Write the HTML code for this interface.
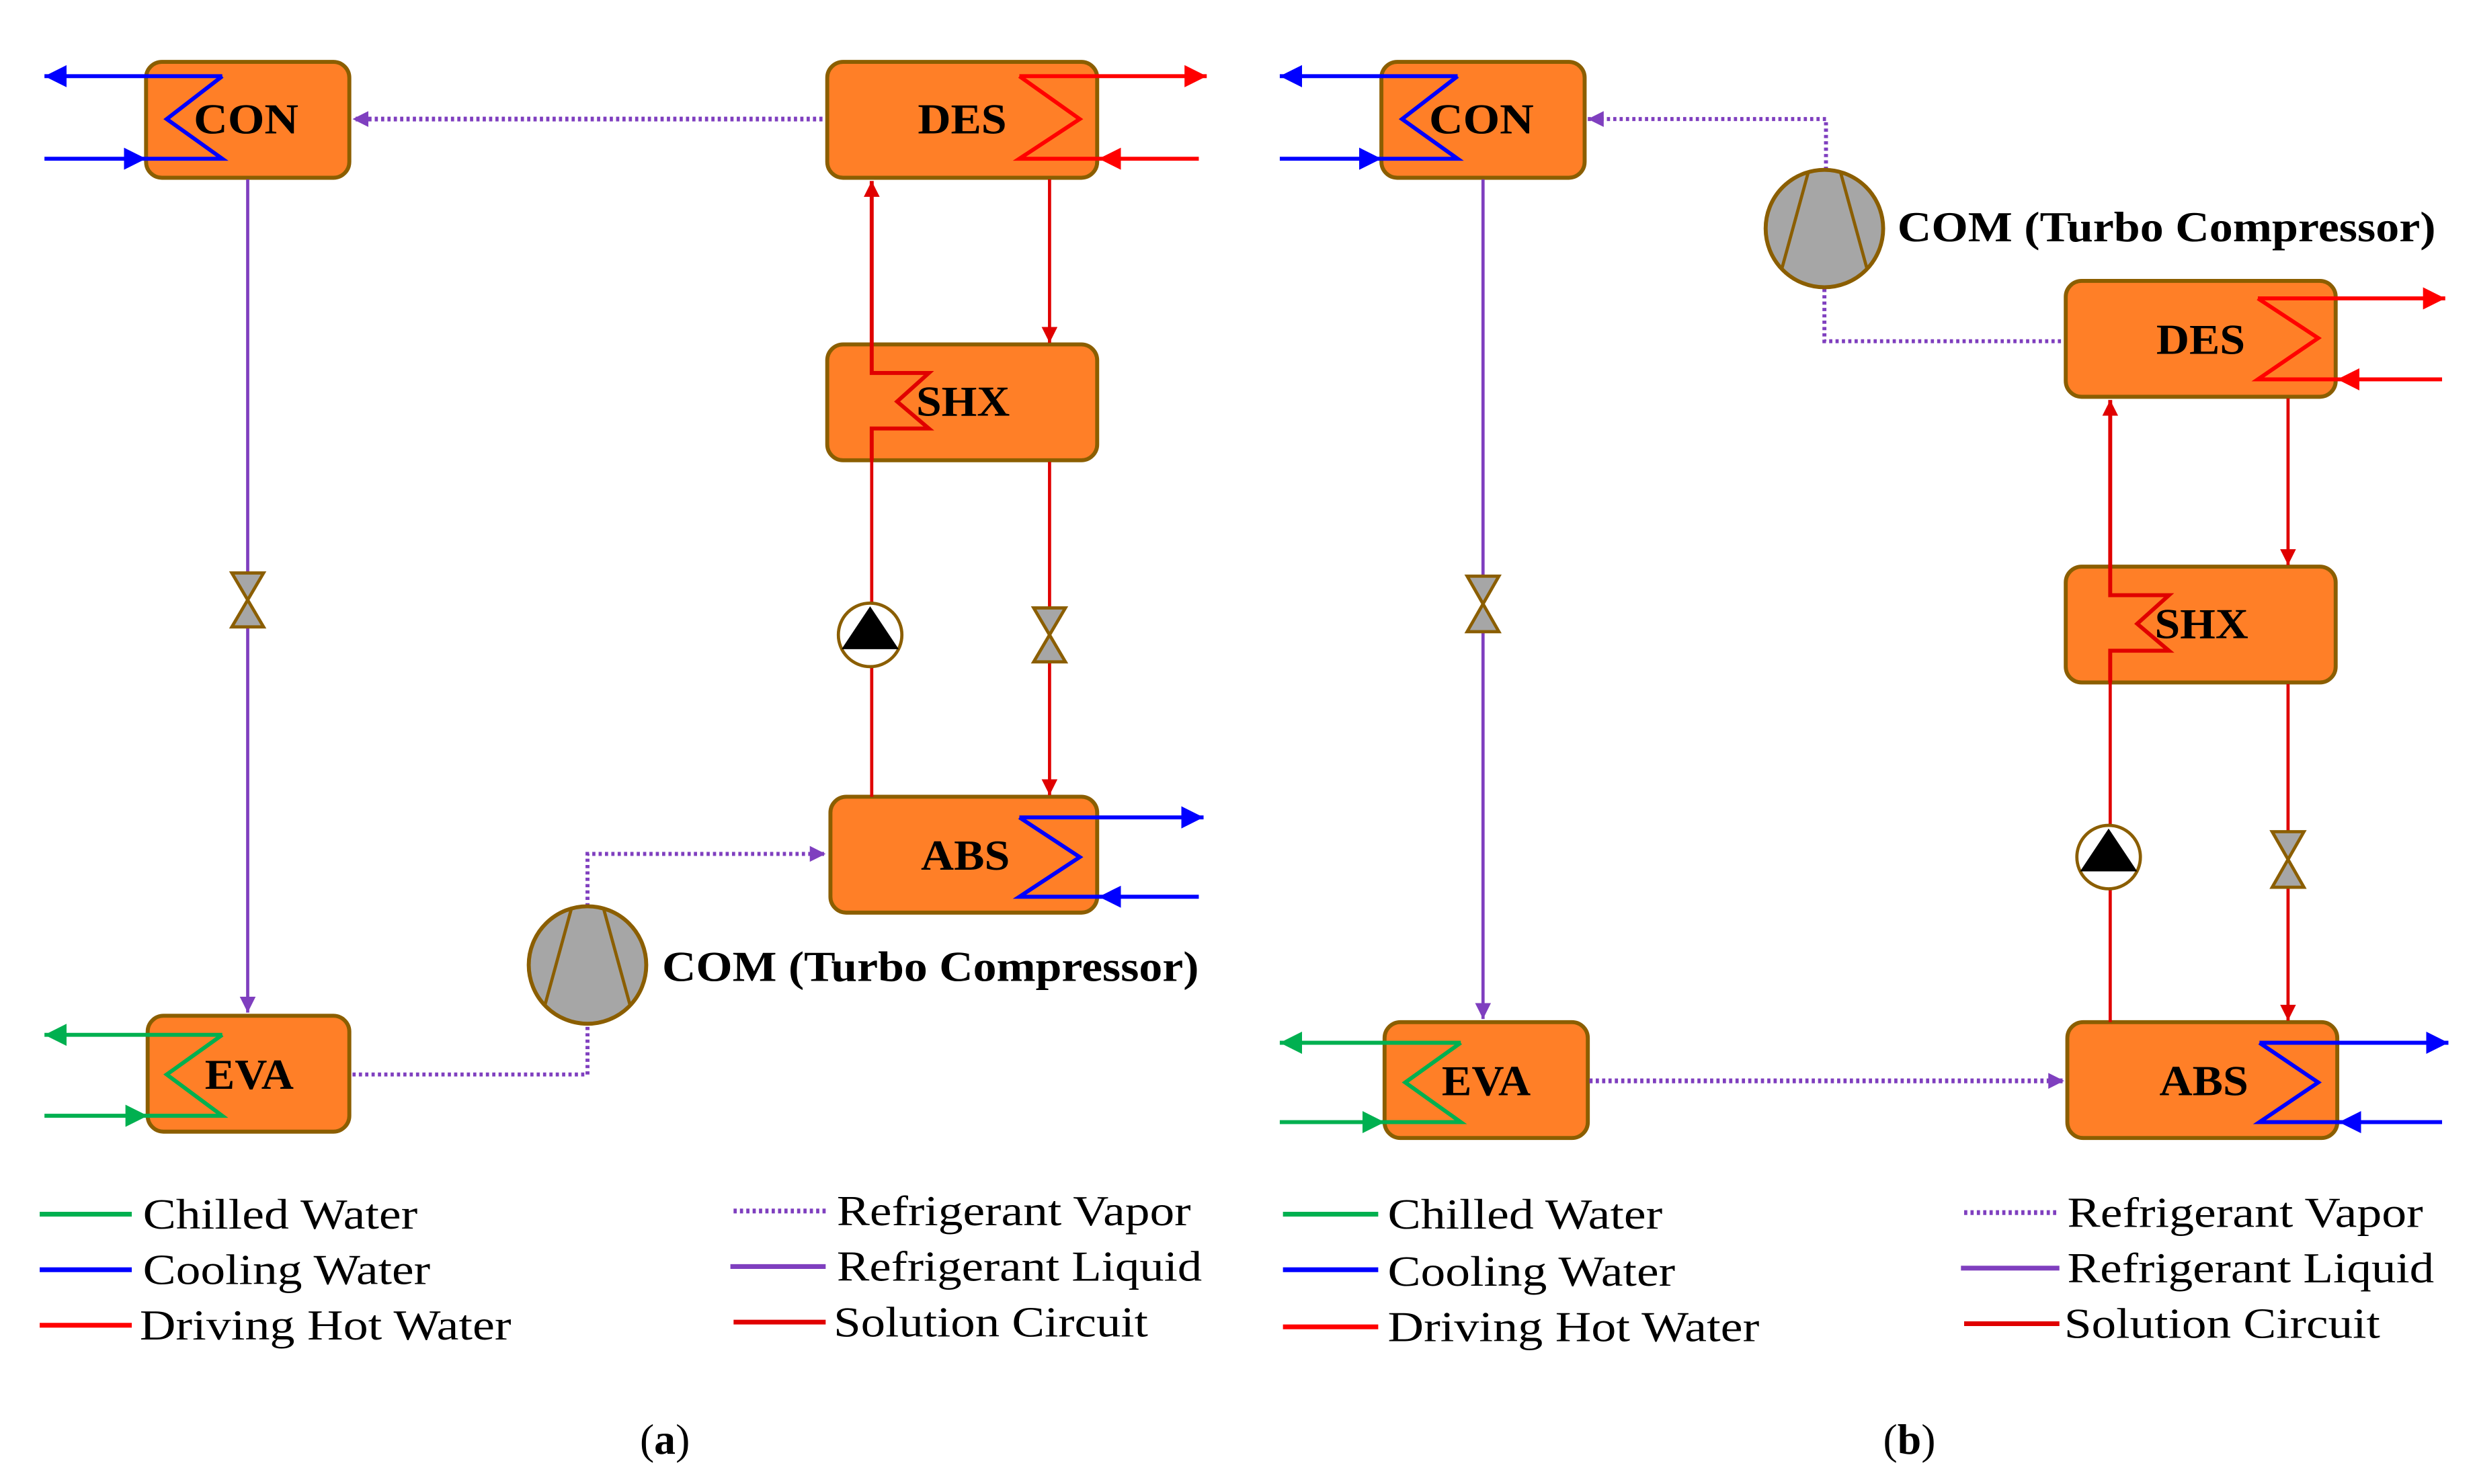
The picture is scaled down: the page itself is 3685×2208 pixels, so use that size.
<!DOCTYPE html>
<html><head><meta charset="utf-8"><style>html,body{margin:0;padding:0;background:#fff}svg{display:block}</style></head><body>
<svg xmlns="http://www.w3.org/2000/svg" width="3685" height="2208" viewBox="0 0 1560 935" preserveAspectRatio="none">
<defs>
<marker id="aB" viewBox="0 0 10 10" refX="10" refY="5" markerWidth="14" markerHeight="14" markerUnits="userSpaceOnUse" orient="auto"><path d="M0,0L10,5L0,10z" fill="#0000ff"/></marker>
<marker id="aG" viewBox="0 0 10 10" refX="10" refY="5" markerWidth="14" markerHeight="14" markerUnits="userSpaceOnUse" orient="auto"><path d="M0,0L10,5L0,10z" fill="#00b050"/></marker>
<marker id="aR" viewBox="0 0 10 10" refX="10" refY="5" markerWidth="14" markerHeight="14" markerUnits="userSpaceOnUse" orient="auto"><path d="M0,0L10,5L0,10z" fill="#ff0000"/></marker>
<marker id="ar" viewBox="0 0 10 10" refX="10" refY="5" markerWidth="10" markerHeight="10" markerUnits="userSpaceOnUse" orient="auto"><path d="M0,0L10,5L0,10z" fill="#e00000"/></marker>
<marker id="aP" viewBox="0 0 10 10" refX="10" refY="5" markerWidth="10" markerHeight="10" markerUnits="userSpaceOnUse" orient="auto"><path d="M0,0L10,5L0,10z" fill="#7f3fbf"/></marker>
</defs>
<g font-family="Liberation Serif, serif" fill="none">
<!-- ===== Panel a ===== -->
<!-- boxes -->
<g fill="#ff7f27" stroke="#8b5e00" stroke-width="2.5">
<rect x="92" y="39" width="128" height="73" rx="10"/>
<rect x="521" y="39" width="170" height="73" rx="10"/>
<rect x="521" y="217" width="170" height="73" rx="10"/>
<rect x="523" y="502" width="168" height="73" rx="10"/>
<rect x="93" y="640" width="127" height="73" rx="10"/>
</g>
<!-- refrigerant liquid -->
<path d="M156,113 V638" stroke="#7f3fbf" stroke-width="2" marker-end="url(#aP)"/>
<!-- vapor -->
<path d="M518,75 H222" stroke="#7f3fbf" stroke-width="3" stroke-dasharray="2,2" marker-end="url(#aP)"/>
<path d="M222,677 H370 V646" stroke="#7f3fbf" stroke-width="2.5" stroke-dasharray="2,2"/>
<path d="M370,571 V538 H520" stroke="#7f3fbf" stroke-width="2.5" stroke-dasharray="2,2" marker-end="url(#aP)"/>
<!-- solution -->
<path d="M549,502 V290" stroke="#e00000" stroke-width="2"/>
<path d="M549,290 V270 H585 L565,253 L585,235 H549 V114" stroke="#e00000" stroke-width="2.5" marker-end="url(#ar)"/>
<path d="M661,113 V216" stroke="#e00000" stroke-width="2" marker-end="url(#ar)"/>
<path d="M661,291 V501" stroke="#e00000" stroke-width="2" marker-end="url(#ar)"/>
<!-- CON blue -->
<path d="M140,48 L105,75 L140,100 H92" stroke="#0000ff" stroke-width="2.5"/>
<path d="M140,48 H28" stroke="#0000ff" stroke-width="2.5" marker-end="url(#aB)"/>
<path d="M28,100 H92" stroke="#0000ff" stroke-width="2.5" marker-end="url(#aB)"/>
<!-- DES red -->
<path d="M642,48 L680,75 L642,100 H692" stroke="#ff0000" stroke-width="2.5"/>
<path d="M642,48 H760" stroke="#ff0000" stroke-width="2.5" marker-end="url(#aR)"/>
<path d="M755,100 H692" stroke="#ff0000" stroke-width="2.5" marker-end="url(#aR)"/>
<!-- ABS blue -->
<path d="M642,515 L680,540 L642,565 H692" stroke="#0000ff" stroke-width="2.5"/>
<path d="M642,515 H758" stroke="#0000ff" stroke-width="2.5" marker-end="url(#aB)"/>
<path d="M755,565 H692" stroke="#0000ff" stroke-width="2.5" marker-end="url(#aB)"/>
<!-- EVA green -->
<path d="M140,652 L105,677 L140,703 H93" stroke="#00b050" stroke-width="2.5"/>
<path d="M140,652 H28" stroke="#00b050" stroke-width="2.5" marker-end="url(#aG)"/>
<path d="M28,703 H93" stroke="#00b050" stroke-width="2.5" marker-end="url(#aG)"/>
<!-- valves -->
<path d="M146,361 H166 L146,395 H166 Z" fill="#a6a6a6" stroke="#8b5e00" stroke-width="2"/>
<path d="M651,383 H671 L651,417 H671 Z" fill="#a6a6a6" stroke="#8b5e00" stroke-width="2"/>
<!-- pump -->
<circle cx="548" cy="400" r="20" fill="#fff" stroke="#8b5e00" stroke-width="2"/>
<path d="M530,409 H566 L548,382 Z" fill="#000"/>
<!-- compressor -->
<circle cx="370" cy="608" r="37" fill="#a6a6a6" stroke="#8b5e00" stroke-width="2.5"/>
<path d="M360,572 L343,634 M380,572 L397,634" stroke="#8b5e00" stroke-width="2"/>
<!-- labels -->
<g fill="#000" font-weight="bold" font-size="27">
<text x="122" y="84" textLength="66" lengthAdjust="spacingAndGlyphs">CON</text>
<text x="578" y="84" textLength="56" lengthAdjust="spacingAndGlyphs">DES</text>
<text x="577" y="262" textLength="59" lengthAdjust="spacingAndGlyphs">SHX</text>
<text x="580" y="548" textLength="56" lengthAdjust="spacingAndGlyphs">ABS</text>
<text x="129" y="686" textLength="56" lengthAdjust="spacingAndGlyphs">EVA</text>
<text x="417" y="618" textLength="338" lengthAdjust="spacingAndGlyphs">COM (Turbo Compressor)</text>
<text x="403" y="916" font-weight="normal">(<tspan font-weight="bold">a</tspan>)</text>
</g>
<!-- legend a -->
<path d="M25,765 H83" stroke="#00b050" stroke-width="3"/>
<path d="M25,800 H83" stroke="#0000ff" stroke-width="3"/>
<path d="M25,835 H83" stroke="#ff0000" stroke-width="3"/>
<path d="M462,763 H520" stroke="#7f3fbf" stroke-width="3" stroke-dasharray="2,2"/>
<path d="M460,798 H520" stroke="#7f3fbf" stroke-width="3"/>
<path d="M462,833 H520" stroke="#e00000" stroke-width="3"/>
<g fill="#000" font-size="27">
<text x="90" y="774" textLength="173" lengthAdjust="spacingAndGlyphs">Chilled Water</text>
<text x="90" y="809" textLength="181" lengthAdjust="spacingAndGlyphs">Cooling Water</text>
<text x="88" y="844" textLength="234" lengthAdjust="spacingAndGlyphs">Driving Hot Water</text>
<text x="527" y="772" textLength="223" lengthAdjust="spacingAndGlyphs">Refrigerant Vapor</text>
<text x="527" y="807" textLength="230" lengthAdjust="spacingAndGlyphs">Refrigerant Liquid</text>
<text x="525" y="842" textLength="198" lengthAdjust="spacingAndGlyphs">Solution Circuit</text>
</g>

<!-- ===== Panel b ===== -->
<g fill="#ff7f27" stroke="#8b5e00" stroke-width="2.5">
<rect x="870" y="39" width="128" height="73" rx="10"/>
<rect x="1301" y="177" width="170" height="73" rx="10"/>
<rect x="1301" y="357" width="170" height="73" rx="10"/>
<rect x="1302" y="644" width="170" height="73" rx="10"/>
<rect x="872" y="644" width="128" height="73" rx="10"/>
</g>
<path d="M934,113 V642" stroke="#7f3fbf" stroke-width="2" marker-end="url(#aP)"/>
<path d="M1150,107 V75 H1000" stroke="#7f3fbf" stroke-width="2.5" stroke-dasharray="2,2" marker-end="url(#aP)"/>
<path d="M1149,182 V215 H1300" stroke="#7f3fbf" stroke-width="2.5" stroke-dasharray="2,2"/>
<path d="M1001,681 H1300" stroke="#7f3fbf" stroke-width="3" stroke-dasharray="2,2" marker-end="url(#aP)"/>
<path d="M1329,644 V430" stroke="#e00000" stroke-width="2"/>
<path d="M1329,430 V410 H1366 L1346,393 L1366,375 H1329 V252" stroke="#e00000" stroke-width="2.5" marker-end="url(#ar)"/>
<path d="M1441,251 V356" stroke="#e00000" stroke-width="2" marker-end="url(#ar)"/>
<path d="M1441,431 V643" stroke="#e00000" stroke-width="2" marker-end="url(#ar)"/>
<!-- CON blue -->
<path d="M918,48 L883,75 L918,100 H870" stroke="#0000ff" stroke-width="2.5"/>
<path d="M918,48 H806" stroke="#0000ff" stroke-width="2.5" marker-end="url(#aB)"/>
<path d="M806,100 H870" stroke="#0000ff" stroke-width="2.5" marker-end="url(#aB)"/>
<!-- DES red -->
<path d="M1422,188 L1460,213 L1422,239 H1472" stroke="#ff0000" stroke-width="2.5"/>
<path d="M1422,188 H1540" stroke="#ff0000" stroke-width="2.5" marker-end="url(#aR)"/>
<path d="M1538,239 H1472" stroke="#ff0000" stroke-width="2.5" marker-end="url(#aR)"/>
<!-- ABS blue -->
<path d="M1423,657 L1460,682 L1423,707 H1473" stroke="#0000ff" stroke-width="2.5"/>
<path d="M1423,657 H1542" stroke="#0000ff" stroke-width="2.5" marker-end="url(#aB)"/>
<path d="M1538,707 H1473" stroke="#0000ff" stroke-width="2.5" marker-end="url(#aB)"/>
<!-- EVA green -->
<path d="M920,657 L885,682 L920,707 H872" stroke="#00b050" stroke-width="2.5"/>
<path d="M920,657 H806" stroke="#00b050" stroke-width="2.5" marker-end="url(#aG)"/>
<path d="M806,707 H872" stroke="#00b050" stroke-width="2.5" marker-end="url(#aG)"/>
<!-- valves -->
<path d="M924,363 H944 L924,398 H944 Z" fill="#a6a6a6" stroke="#8b5e00" stroke-width="2"/>
<path d="M1431,524 H1451 L1431,559 H1451 Z" fill="#a6a6a6" stroke="#8b5e00" stroke-width="2"/>
<circle cx="1328" cy="540" r="20" fill="#fff" stroke="#8b5e00" stroke-width="2"/>
<path d="M1310,549 H1346 L1328,522 Z" fill="#000"/>
<circle cx="1149" cy="144" r="37" fill="#a6a6a6" stroke="#8b5e00" stroke-width="2.5"/>
<path d="M1139,108 L1122,170 M1159,108 L1176,170" stroke="#8b5e00" stroke-width="2"/>
<g fill="#000" font-weight="bold" font-size="27">
<text x="900" y="84" textLength="66" lengthAdjust="spacingAndGlyphs">CON</text>
<text x="1358" y="223" textLength="56" lengthAdjust="spacingAndGlyphs">DES</text>
<text x="1357" y="402" textLength="59" lengthAdjust="spacingAndGlyphs">SHX</text>
<text x="1360" y="690" textLength="56" lengthAdjust="spacingAndGlyphs">ABS</text>
<text x="908" y="690" textLength="56" lengthAdjust="spacingAndGlyphs">EVA</text>
<text x="1195" y="152" textLength="339" lengthAdjust="spacingAndGlyphs">COM (Turbo Compressor)</text>
<text x="1186" y="916" font-weight="normal">(<tspan font-weight="bold">b</tspan>)</text>
</g>
<path d="M808,765 H868" stroke="#00b050" stroke-width="3"/>
<path d="M808,800 H868" stroke="#0000ff" stroke-width="3"/>
<path d="M808,836 H868" stroke="#ff0000" stroke-width="3"/>
<path d="M1237,764 H1297" stroke="#7f3fbf" stroke-width="3" stroke-dasharray="2,2"/>
<path d="M1235,799 H1297" stroke="#7f3fbf" stroke-width="3"/>
<path d="M1237,834 H1297" stroke="#e00000" stroke-width="3"/>
<g fill="#000" font-size="27">
<text x="874" y="774" textLength="173" lengthAdjust="spacingAndGlyphs">Chilled Water</text>
<text x="874" y="810" textLength="181" lengthAdjust="spacingAndGlyphs">Cooling Water</text>
<text x="874" y="845" textLength="234" lengthAdjust="spacingAndGlyphs">Driving Hot Water</text>
<text x="1302" y="773" textLength="224" lengthAdjust="spacingAndGlyphs">Refrigerant Vapor</text>
<text x="1302" y="808" textLength="231" lengthAdjust="spacingAndGlyphs">Refrigerant Liquid</text>
<text x="1300" y="843" textLength="199" lengthAdjust="spacingAndGlyphs">Solution Circuit</text>
</g>
</g>
</svg>
</body></html>
